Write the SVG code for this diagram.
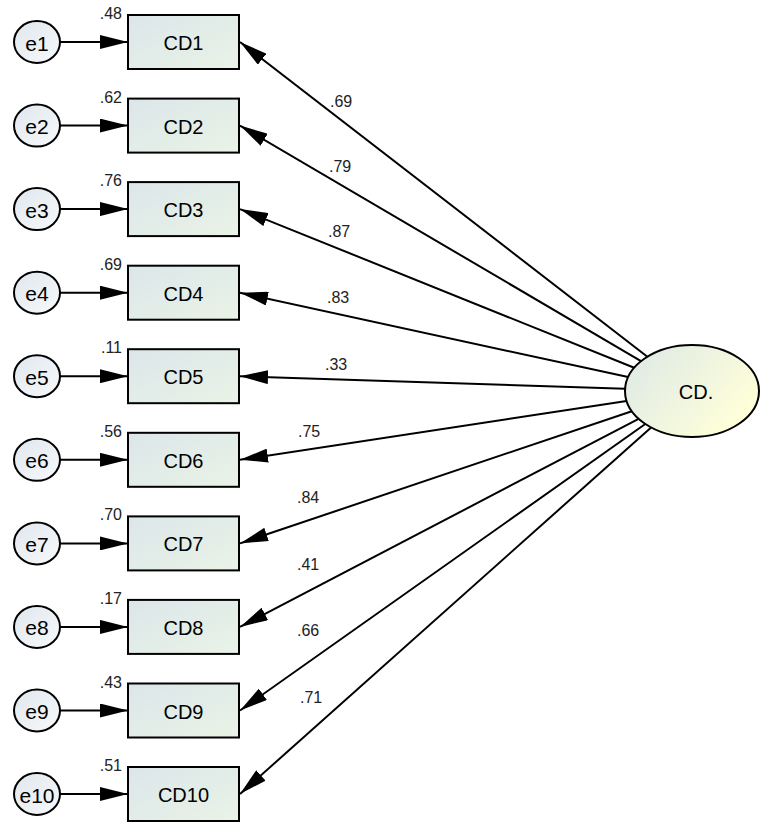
<svg xmlns="http://www.w3.org/2000/svg" width="760" height="823" viewBox="0 0 760 823">
<defs>
<linearGradient id="gBox" x1="0" y1="0" x2="1" y2="1">
<stop offset="0" stop-color="#dce6ea"/>
<stop offset="1" stop-color="#e9f3e6"/>
</linearGradient>
<linearGradient id="gEll" x1="0" y1="0" x2="1" y2="0.6">
<stop offset="0" stop-color="#dce8e8"/>
<stop offset="1" stop-color="#ffffd8"/>
</linearGradient>
<linearGradient id="gErr" x1="0" y1="0" x2="1" y2="1">
<stop offset="0" stop-color="#dfe7ee"/>
<stop offset="1" stop-color="#f8f9fa"/>
</linearGradient>
<marker id="ah" viewBox="0 0 28 14" refX="28" refY="7" markerWidth="28" markerHeight="14" markerUnits="userSpaceOnUse" orient="auto">
<path d="M0,0 L28,7 L0,14 Z" fill="#000"/>
</marker>
</defs>
<style>
.box{fill:url(#gBox);stroke:#000;stroke-width:2}
.err{fill:url(#gErr);stroke:#000;stroke-width:2}
.lat{fill:url(#gEll);stroke:#000;stroke-width:2}
.lbl{font-family:"Liberation Sans",Arial,sans-serif;font-size:20px;fill:#000;text-anchor:middle;dominant-baseline:central}
.elbl{font-family:"Liberation Sans",Arial,sans-serif;font-size:21px;fill:#000;text-anchor:middle;dominant-baseline:central}
.num{font-family:"Liberation Sans",Arial,sans-serif;font-size:16px;fill:#222}
.r2{text-anchor:end}
.ar{stroke:#000;stroke-width:2;fill:none;marker-end:url(#ah)}
</style>
<g id="connectors">
<line class="ar" x1="60" y1="42" x2="128" y2="42"/>
<line class="ar" x1="60" y1="125.6" x2="128" y2="125.6"/>
<line class="ar" x1="60" y1="209.1" x2="128" y2="209.1"/>
<line class="ar" x1="60" y1="292.7" x2="128" y2="292.7"/>
<line class="ar" x1="60" y1="376.2" x2="128" y2="376.2"/>
<line class="ar" x1="60" y1="459.8" x2="128" y2="459.8"/>
<line class="ar" x1="60" y1="543.4" x2="128" y2="543.4"/>
<line class="ar" x1="60" y1="626.9" x2="128" y2="626.9"/>
<line class="ar" x1="60" y1="710.5" x2="128" y2="710.5"/>
<line class="ar" x1="60" y1="794" x2="128" y2="794"/>
<line class="ar" x1="647.4" y1="356.7" x2="240" y2="42"/>
<line class="ar" x1="641.0" y1="361.1" x2="240" y2="125.6"/>
<line class="ar" x1="634.2" y1="367.8" x2="240" y2="209.1"/>
<line class="ar" x1="628.1" y1="377.1" x2="240" y2="292.7"/>
<line class="ar" x1="625.1" y1="388.8" x2="240" y2="376.2"/>
<line class="ar" x1="626.6" y1="400.9" x2="240" y2="459.8"/>
<line class="ar" x1="631.8" y1="411.2" x2="240" y2="543.4"/>
<line class="ar" x1="638.6" y1="418.8" x2="240" y2="626.9"/>
<line class="ar" x1="645.3" y1="424.0" x2="240" y2="710.5"/>
<line class="ar" x1="651.1" y1="427.4" x2="240" y2="794"/>
<text class="num" x="330" y="107">.69</text>
<text class="num" x="329" y="172">.79</text>
<text class="num" x="328" y="237">.87</text>
<text class="num" x="327" y="303">.83</text>
<text class="num" x="325" y="370">.33</text>
<text class="num" x="298" y="437">.75</text>
<text class="num" x="297" y="503">.84</text>
<text class="num" x="297" y="570">.41</text>
<text class="num" x="297" y="636">.66</text>
<text class="num" x="300" y="703">.71</text>
</g>
<g id="CD">
<ellipse class="lat" cx="692" cy="391" rx="67" ry="46"/>
<text class="lbl" x="696" y="392">CD.</text>
</g>
<g id="CD1"><rect class="box" x="128" y="15" width="111" height="54"/><text class="lbl" x="183.5" y="43">CD1</text><text class="num r2" x="122" y="19">.48</text></g>
<g id="CD2"><rect class="box" x="128" y="98.6" width="111" height="54"/><text class="lbl" x="183.5" y="126.6">CD2</text><text class="num r2" x="122" y="102.6">.62</text></g>
<g id="CD3"><rect class="box" x="128" y="182.1" width="111" height="54"/><text class="lbl" x="183.5" y="210.1">CD3</text><text class="num r2" x="122" y="186.1">.76</text></g>
<g id="CD4"><rect class="box" x="128" y="265.7" width="111" height="54"/><text class="lbl" x="183.5" y="293.7">CD4</text><text class="num r2" x="122" y="269.7">.69</text></g>
<g id="CD5"><rect class="box" x="128" y="349.2" width="111" height="54"/><text class="lbl" x="183.5" y="377.2">CD5</text><text class="num r2" x="122" y="353.2">.11</text></g>
<g id="CD6"><rect class="box" x="128" y="432.8" width="111" height="54"/><text class="lbl" x="183.5" y="460.8">CD6</text><text class="num r2" x="122" y="436.8">.56</text></g>
<g id="CD7"><rect class="box" x="128" y="516.4" width="111" height="54"/><text class="lbl" x="183.5" y="544.4">CD7</text><text class="num r2" x="122" y="520.4">.70</text></g>
<g id="CD8"><rect class="box" x="128" y="599.9" width="111" height="54"/><text class="lbl" x="183.5" y="627.9">CD8</text><text class="num r2" x="122" y="603.9">.17</text></g>
<g id="CD9"><rect class="box" x="128" y="683.5" width="111" height="54"/><text class="lbl" x="183.5" y="711.5">CD9</text><text class="num r2" x="122" y="687.5">.43</text></g>
<g id="CD10"><rect class="box" x="128" y="767" width="111" height="54"/><text class="lbl" x="183.5" y="795">CD10</text><text class="num r2" x="122" y="771">.51</text></g>
<g id="e1"><ellipse class="err" cx="37" cy="42" rx="23" ry="21"/><text class="elbl" x="37" y="43">e1</text></g>
<g id="e2"><ellipse class="err" cx="37" cy="125.6" rx="23" ry="21"/><text class="elbl" x="37" y="126.6">e2</text></g>
<g id="e3"><ellipse class="err" cx="37" cy="209.1" rx="23" ry="21"/><text class="elbl" x="37" y="210.1">e3</text></g>
<g id="e4"><ellipse class="err" cx="37" cy="292.7" rx="23" ry="21"/><text class="elbl" x="37" y="293.7">e4</text></g>
<g id="e5"><ellipse class="err" cx="37" cy="376.2" rx="23" ry="21"/><text class="elbl" x="37" y="377.2">e5</text></g>
<g id="e6"><ellipse class="err" cx="37" cy="459.8" rx="23" ry="21"/><text class="elbl" x="37" y="460.8">e6</text></g>
<g id="e7"><ellipse class="err" cx="37" cy="543.4" rx="23" ry="21"/><text class="elbl" x="37" y="544.4">e7</text></g>
<g id="e8"><ellipse class="err" cx="37" cy="626.9" rx="23" ry="21"/><text class="elbl" x="37" y="627.9">e8</text></g>
<g id="e9"><ellipse class="err" cx="37" cy="710.5" rx="23" ry="21"/><text class="elbl" x="37" y="711.5">e9</text></g>
<g id="e10"><ellipse class="err" cx="37" cy="794" rx="23" ry="21"/><text class="elbl" x="37" y="795">e10</text></g>
</svg>
